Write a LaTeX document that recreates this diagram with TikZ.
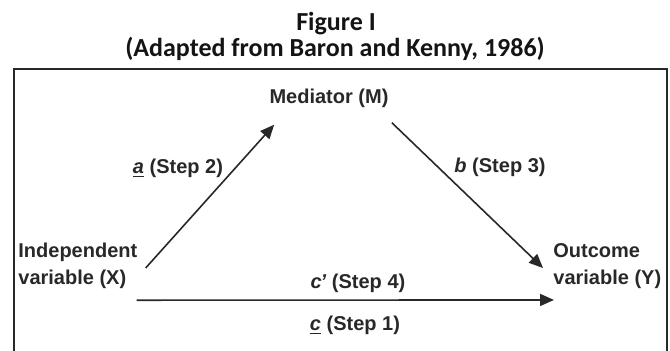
\documentclass[tikz,border=0pt]{standalone}
\usepackage{fontspec}
\setmainfont{Liberation Sans}
\newfontfamily\titlefont{Carlito}
\usepackage{tikz}
\usetikzlibrary{arrows.meta,positioning,calc}
\definecolor{ink}{RGB}{40,40,40}
\definecolor{titleink}{RGB}{20,20,20}
\tikzset{
  var/.style={text=ink,font=\fontsize{10}{13.5}\selectfont\bfseries,inner sep=2pt,align=left},
  lbl/.style={text=ink,font=\fontsize{10}{12}\selectfont\bfseries,inner sep=1pt},
  ttl/.style={text=titleink,font=\titlefont\fontsize{13}{15}\selectfont\bfseries,inner sep=0pt},
  path/.style={-{Triangle[length=7pt,width=6pt]},draw=ink,line width=0.8pt},
  frame/.style={draw=ink,line width=1.3pt}
}

\begin{document}
\begin{tikzpicture}[x=0.5pt,y=-0.5pt]
\useasboundingbox (0,0) rectangle (670,351);
% title and frame
\node[ttl] (fig) at (336,24) {Figure I};
\node[ttl] (src) at (335,49) {(Adapted from Baron and Kenny, 1986)};
\draw[frame] (14,360) -- (14,69) -- (667,69) -- (667,360);
% variables
\node[var] (med) at (329,98) {Mediator (M)};
\node[var,anchor=west] (ind) at (14,266) {Independent\\variable (X)};
\node[var,anchor=west] (out) at (549,266) {Outcome\\variable (Y)};
% paths
\draw[path] ($(ind.east)+(4,2)$) -- ($(med.south west)+(9,13)$);
\draw[path] ($(med.south east)+(-1,11)$) -- ($(out.west)+(-6,2)$);
\draw[path] ($(ind.south east)+(-5,7)$) -- ($(out.south west)+(5,7)$);
\node[lbl] (pa) at (178,168) {\underline{\textit{a}} (Step 2)};
\node[lbl] (pb) at (500,167) {\textit{b} (Step 3)};
\node[lbl] (pcd) at (358,283) {\textit{c}\kern-0.6pt\textit{'} (Step 4)};
\node[lbl] (pc) at (355,325) {\underline{\textit{c}} (Step 1)};
\end{tikzpicture}
\end{document}
